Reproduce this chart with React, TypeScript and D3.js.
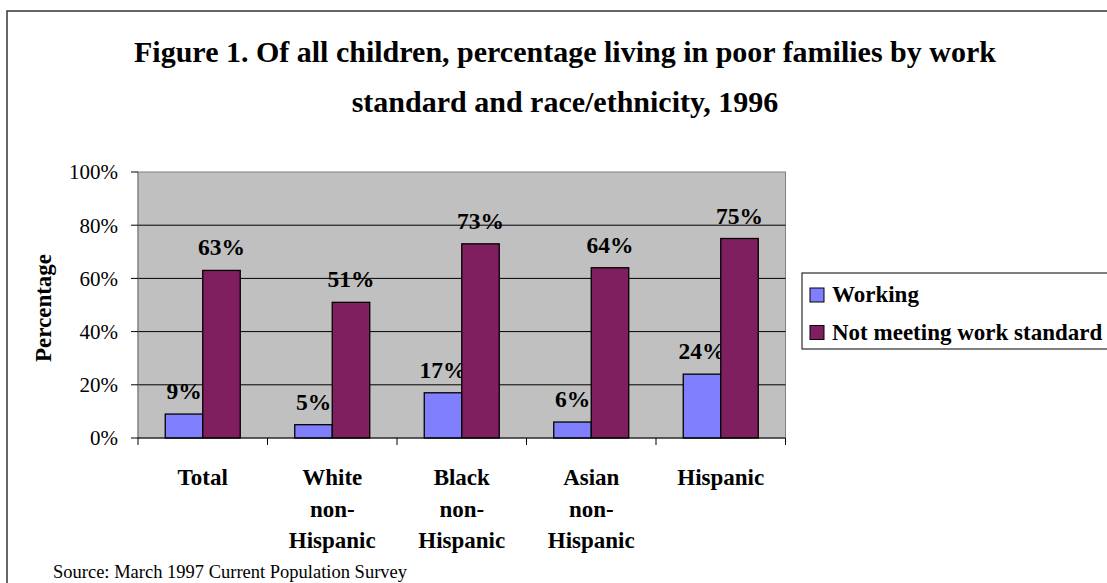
import React from "react";
import * as d3 from "d3";

const categories: string[][] = [
  ["Total"],
  ["White", "non-", "Hispanic"],
  ["Black", "non-", "Hispanic"],
  ["Asian", "non-", "Hispanic"],
  ["Hispanic"],
];
const categoryKeys = ["Total", "White", "Black", "Asian", "Hispanic"];
const seriesNames = ["Working", "Not meeting work standard"];
const working = [9, 5, 17, 6, 24];
const notMeeting = [63, 51, 73, 64, 75];
const yTicks = [0, 20, 40, 60, 80, 100];
const titleLines = [
  "Figure 1. Of all children, percentage living in poor families by work",
  "standard and race/ethnicity, 1996",
];
const sourceText = "Source: March 1997 Current Population Survey";

const colors = ["#8080FF", "#7F1F5F"];
const FONT = "'Liberation Serif', 'Times New Roman', Times, serif";

export default function App() {
  const W = 1107, H = 583;
  const left = 138, right = 785.5, top = 172, bottom = 438;
  const x = d3.scaleBand<string>().domain(categoryKeys).range([left, right]).padding(0);
  const inner = d3
    .scaleBand<string>()
    .domain(seriesNames)
    .range([0, x.bandwidth()])
    .paddingInner(0)
    .paddingOuter(0.727);
  const y = d3.scaleLinear().domain([0, 100]).range([bottom, top]);
  const seriesData = [working, notMeeting];

  return (
    <svg
      width={W}
      height={H}
      style={{ position: "fixed", left: 0, top: 0, display: "block", fontFamily: FONT }}
    >
      <rect x={0} y={0} width={W} height={H} fill="#fff" />
      <rect x={7} y={11} width={1300} height={800} fill="none" stroke="#333" strokeWidth={1.5} />
      {titleLines.map((t, i) => (
        <text key={i} x={565} y={62 + i * 50} textAnchor="middle" fontWeight="bold" fontSize={30}>
          {t}
        </text>
      ))}
      <rect x={left} y={top} width={right - left} height={bottom - top} fill="#C0C0C0" stroke="#808080" strokeWidth={1} />
      {yTicks.filter((v) => v > 0 && v < 100).map((v) => (
        <line key={v} x1={left} x2={right} y1={y(v)} y2={y(v)} stroke="#000" strokeWidth={1} />
      ))}
      <line x1={left} x2={left} y1={top} y2={bottom} stroke="#808080" />
      {yTicks.map((v) => (
        <g key={v}>
          <line x1={left - 7} x2={left} y1={y(v)} y2={y(v)} stroke="#000" />
          <text x={118} y={y(v)} dy="0.35em" textAnchor="end" fontSize={21}>
            {v}%
          </text>
        </g>
      ))}
      {categoryKeys.map((c, ci) =>
        seriesNames.map((s, si) => {
          const v = seriesData[si][ci];
          const bx = (x(c) as number) + (inner(s) as number);
          const bw = inner.bandwidth();
          return (
            <g key={c + s}>
              <rect x={bx} y={y(v)} width={bw} height={bottom - y(v)} fill={colors[si]} stroke="#000" strokeWidth={1.3} />
              <text x={bx + bw / 2} y={y(v) - 15} textAnchor="middle" fontWeight="bold" fontSize={23.5}>
                {v}%
              </text>
            </g>
          );
        })
      )}
      <line x1={left} x2={right} y1={bottom} y2={bottom} stroke="#000" />
      {[...categoryKeys.map((c) => x(c) as number), right].map((tx, i) => (
        <line key={i} x1={tx} x2={tx} y1={bottom} y2={bottom + 7} stroke="#000" />
      ))}
      {categoryKeys.map((c, ci) => (
        <text key={c} textAnchor="middle" fontWeight="bold" fontSize={23}>
          {categories[ci].map((ln, li) => (
            <tspan key={li} x={(x(c) as number) + x.bandwidth() / 2} y={485 + li * 31.5}>
              {ln}
            </tspan>
          ))}
        </text>
      ))}
      <text transform={`translate(51,308) rotate(-90)`} textAnchor="middle" fontWeight="bold" fontSize={23}>
        Percentage
      </text>
      <rect x={802} y={273} width={400} height={76} fill="#fff" stroke="#000" strokeWidth={1} />
      {seriesNames.map((s, i) => (
        <g key={s}>
          <rect x={810} y={288 + i * 37.5} width={14} height={14} fill={colors[i]} stroke="#000" strokeWidth={1} />
          <text x={832} y={302 + i * 37.5} fontWeight="bold" fontSize={23}>
            {s}
          </text>
        </g>
      ))}
      <text x={53} y={578} fontSize={18.5}>
        {sourceText}
      </text>
    </svg>
  );
}
